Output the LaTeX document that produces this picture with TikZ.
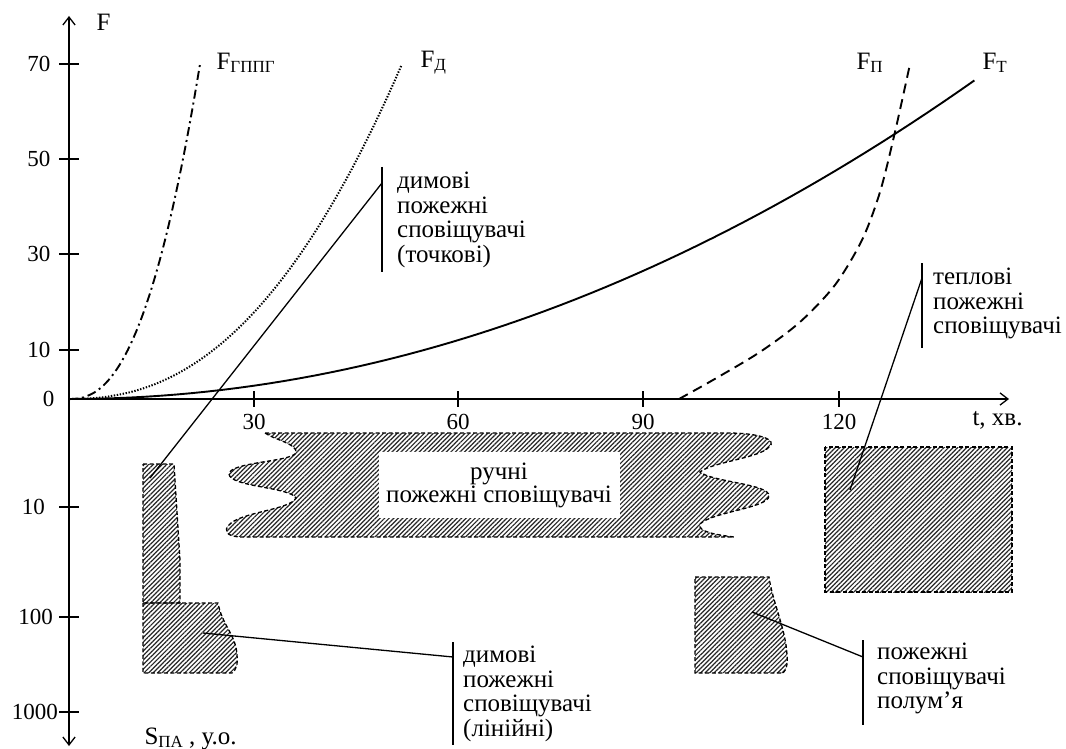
\documentclass[tikz,border=0pt]{standalone}
\usepackage{fontspec}
\setmainfont{Liberation Serif}
\usetikzlibrary{arrows.meta,patterns.meta}
\newcommand{\lowsub}[1]{\raisebox{-0.25ex}{\fontsize{17}{17}\selectfont #1}}
\begin{document}
\begin{tikzpicture}[x=1pt,y=-1pt,font=\fontsize{23}{24}\selectfont,
    axis/.style={line width=1.3pt},
    tip/.style={-{Straight Barb[angle=75:10pt,line width=1.3pt]}},
    curve/.style={line width=1.9pt},
    zone/.style={dash pattern=on 4pt off 2.5pt,line width=1.3pt,
      pattern={Lines[angle=45,distance=3.2pt,line width=1.2pt]},pattern color=black!85},
    leader/.style={line width=1.3pt},
    note/.style={anchor=north west,align=left,inner sep=0pt,
      font=\fontsize{25}{24.5}\selectfont}]
    \useasboundingbox (0,0) rectangle (1066,749);
    % axes
    \coordinate (O) at (69,399); \coordinate (ytop) at (69,16);
    \coordinate (ybot) at (69,746); \coordinate (xend) at (1009,399);
    \draw[axis,tip] (O) -- (ytop); \draw[axis,tip] (O) -- (ybot);
    \draw[axis,tip] (O) -- (xend);
    \node[anchor=west,font=\fontsize{25}{25}\selectfont] (Flab) at (93,22) {F};
    \node[anchor=west,font=\fontsize{25}{25}\selectfont] (tlab) at (969,420) {t, хв.};
    \node[anchor=west,font=\fontsize{25}{25}\selectfont] (Slab) at (141,739) {S\lowsub{ПА} , у.о.};
    \node[anchor=east] (y0) at (58,399) {0};
    \foreach \yy/\lab in {64/70,159/50,254/30,350/10}
      {\draw[axis] (59,\yy) -- (79,\yy);
       \node[anchor=east] (yu\lab) at (54,\yy) {\lab};}
    \foreach \yy/\lab/\xx in {507/10/45,617/100/53,712/1000/58}
      {\draw[axis] (59,\yy) -- (79,\yy);
       \node[anchor=east,inner sep=0pt] (yl\lab) at (\xx,\yy) {\lab};}
    \foreach \xx/\lab in {254/30,458/60,643/90,839/120}
      {\draw[axis] (\xx,391) -- (\xx,407);
       \node (x\lab) at (\xx,422) {\lab};}
    % curves
    \draw[curve,dash pattern=on 9pt off 4pt on 2pt off 4pt]
      plot[domain=0:1,samples=50] ({69+131*\x},{399-335*\x^2.4});
    \draw[curve,line width=2pt,dash pattern=on 1.4pt off 1.6pt]
      plot[domain=0:1,samples=60] ({69+333*\x},{399-335*\x^2.3});
    \draw[curve] plot[domain=0:1,samples=60] ({69+906*\x},{399-319*\x*\x});
    \draw[curve,dash pattern=on 10pt off 6pt] plot[smooth] coordinates
      {(679,399) (713,380) (760,352) (800,322) (835,285) (862,240) (880,192) (895,132) (910,64)};
    \node[anchor=west,font=\fontsize{25}{25}\selectfont] (Fg) at (213,63) {F\lowsub{ГППГ}};
    \node[anchor=west,font=\fontsize{25}{25}\selectfont] (Fd) at (417,63) {F\lowsub{Д}};
    \node[anchor=west,font=\fontsize{25}{25}\selectfont] (Fp) at (853,63) {F\lowsub{П}};
    \node[anchor=west,font=\fontsize{25}{25}\selectfont] (Ft) at (979,63) {F\lowsub{Т}};
    % zones
    \draw[zone] (265,433) -- (728,433)
      .. controls (760,433) and (778,440) .. (769,447)
      .. controls (760,458) and (712,462) .. (700,472)
      .. controls (712,482) and (770,484) .. (769,496)
      .. controls (768,508) and (712,512) .. (700,524)
      .. controls (697,532) and (718,535) .. (734,537)
      -- (240,537)
      .. controls (225,536) and (224,530) .. (229,525)
      .. controls (240,512) and (290,510) .. (296,498)
      .. controls (290,487) and (230,487) .. (229,474)
      .. controls (230,462) and (290,462) .. (296,453)
      .. controls (298,444) and (275,440) .. (265,433) -- cycle;
    \node[fill=white,minimum width=241pt,minimum height=66pt,align=center,
      inner sep=0pt,font=\fontsize{25}{23}\selectfont] (ruchni) at (499,485) {ручні\\пожежні сповіщувачі};
    \draw[zone] (143,464) -- (174,464) -- (180,560) -- (180,603)
      -- (143,603) -- cycle;
    \draw[zone] (143,603) -- (218,603)
      .. controls (222,625) and (236,635) .. (237,655)
      .. controls (238,665) and (236,670) .. (232,673) -- (143,673) -- cycle;
    \draw[zone] (825,447) rectangle (1012,592);
    \draw[zone] (695,577) -- (769,577)
      .. controls (772,600) and (786,630) .. (787,655)
      .. controls (788,665) and (786,670) .. (783,673) -- (695,673) -- cycle;
    % notes
    \coordinate (tochk-in) at (150,478); \coordinate (tochk-bar) at (382,183);
    \draw[leader] (382,167) -- (382,272);
    \node[note] (tochk) at (397,172) {димові\\пожежні\\сповіщувачі\\(точкові)};
    \draw[leader] (tochk-in) -- (tochk-bar);
    \coordinate (tepl-in) at (850,490); \coordinate (tepl-bar) at (922,278);
    \draw[leader] (922,263) -- (922,348);
    \node[note] (tepl) at (933,268) {теплові\\пожежні\\сповіщувачі};
    \draw[leader] (tepl-in) -- (tepl-bar);
    \coordinate (lin-in) at (203,633); \coordinate (lin-bar) at (453,657);
    \draw[leader] (453,642) -- (453,745);
    \node[note] (lin) at (463,646) {димові\\пожежні\\сповіщувачі\\(лінійні)};
    \draw[leader] (lin-in) -- (lin-bar);
    \coordinate (polum-in) at (752,612); \coordinate (polum-bar) at (863,657);
    \draw[leader] (863,640) -- (863,725);
    \node[note] (polum) at (877,643) {пожежні\\сповіщувачі\\полум’я};
    \draw[leader] (polum-in) -- (polum-bar);
\end{tikzpicture}
\end{document}
